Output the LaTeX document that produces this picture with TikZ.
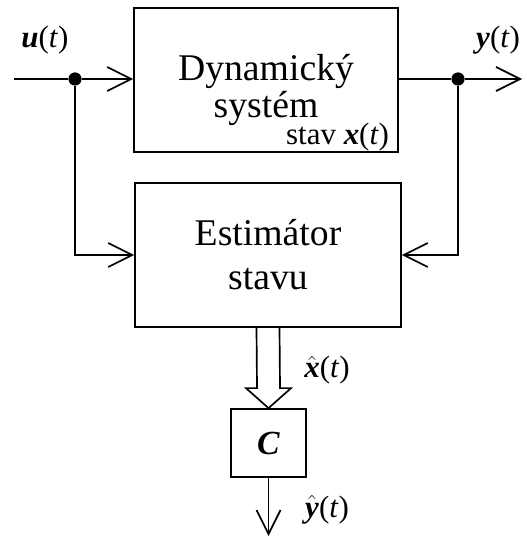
\documentclass[tikz,border=0pt]{standalone}
\usepackage{fontspec}
\setmainfont{Liberation Serif}
\usepackage{tikz}
\usetikzlibrary{arrows.meta, positioning, calc}
\tikzset{
    blockdiagram/.style={>={Straight Barb[length=0.6cm, width=0.6cm]}, line width=1.2pt},
    block/.style={draw, align=center, inner sep=0pt},
    branch/.style={fill, circle, inner sep=0pt, minimum size=0.33cm},
    sig/.style={font=\fontsize{22}{26}\selectfont, inner sep=0pt},
    % big hollow arrow between the estimator and C
    bigarrow/.style={line width=1.2pt, line join=miter},
}
\newcommand{\bvec}[1]{\textbf{\textit{#1}}}
\newcommand{\bhat}[1]{$\hat{\mbox{\bvec{#1}}}$}

\begin{document}
\begin{tikzpicture}[blockdiagram, x=0.025cm, y=-0.025cm]
    \useasboundingbox (0,0) rectangle (526,537);
    \node[block, minimum width=6.6cm, minimum height=3.6cm,
          font=\fontsize{26.8}{26.3}\selectfont] (dyn) at (266,80)
          {\rule{0pt}{33pt}Dynamický\\systém};
    \node[sig, anchor=south east] (stav) at ($(dyn.south east)+(-9,-1)$) {stav \bvec{x}(\textit{t})};
    \node[block, minimum width=6.65cm, minimum height=3.6cm,
          font=\fontsize{26.8}{31.3}\selectfont] (est) at (268,255)
          {Estimátor\\stavu};
    \node[block, minimum width=1.875cm, minimum height=1.7cm,
          font=\fontsize{24}{28}\selectfont] (cblk) at (268.5,443) {\bvec{C}};

    \coordinate (uin) at (14,79);
    \node[branch] (d1) at (75,79) {};
    \node[branch] (d2) at (458,79) {};
    \coordinate (yout) at (522,79);
    \coordinate (yhat) at (268.5,536);

    \node[sig] (ulab) at (45,40) {\bvec{u}(\textit{t})};
    \node[sig] (ylab) at (498,40) {\bvec{y}(\textit{t})};
    \node[sig] (xhlab) at (327,370) {\bhat{x}(\textit{t})};
    \node[sig] (yhlab) at (327,510) {\bhat{y}(\textit{t})};

    \draw[->] (uin) -- (d1) -- (dyn.west |- d1);
    \draw[->] (dyn.east |- d2) -- (d2) -- (yout);
    \draw[->] (d1) |- (est.west);
    \draw[->] (d2) |- (est.east);
    \draw[->] (cblk.south) -- (yhat);
    \draw[bigarrow] ($(est.south)+(-11.5,0)$) -- ($(cblk.north)+(-11.5,-20)$)
        -- ($(cblk.north)+(-22.5,-20)$) -- (cblk.north)
        -- ($(cblk.north)+(22.5,-20)$) -- ($(cblk.north)+(11.5,-20)$)
        -- ($(est.south)+(11.5,0)$);
\end{tikzpicture}
\end{document}
